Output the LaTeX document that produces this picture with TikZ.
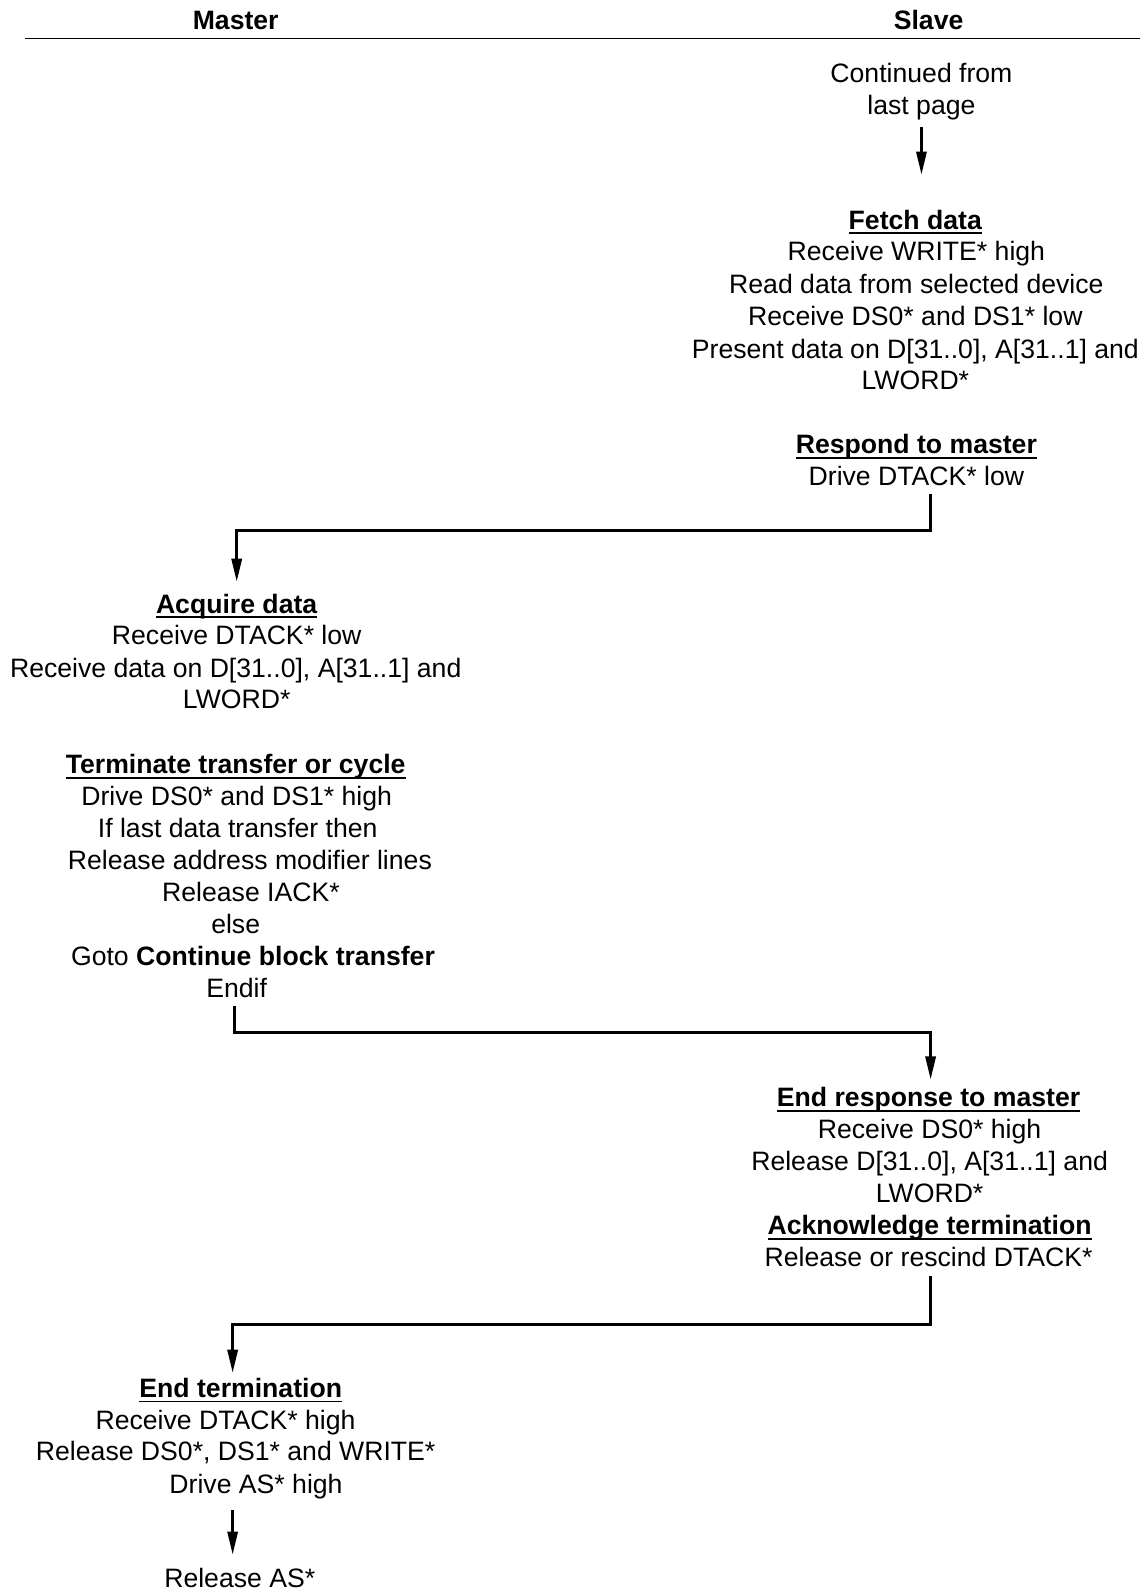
\documentclass[tikz,border=0pt]{standalone}
\usepackage{fontspec}
\setmainfont{Liberation Sans}
\usetikzlibrary{arrows.meta}
\usetikzlibrary{calc}

\newcommand\fsz{\fontsize{19.65pt}{23.7pt}\selectfont}
\newcommand\hd[1]{\setbox0\hbox{\textbf{#1}}\rlap{\rule[-3.6pt]{\wd0}{1.3pt}}\box0}

\tikzset{
  txt/.style={font=\fsz, inner sep=0pt, text height=14.1pt, text depth=4.1pt, yshift=-2.2pt},
  flow/.style={line width=2pt, -{Triangle[length=17pt,width=7.5pt]}},
}

\begin{document}
\begin{tikzpicture}[x=0.75pt, y=-0.75pt]
 \useasboundingbox (0,0) rectangle (1126,1568);

 %header
 \node[txt, font=\fsz\bfseries] (master) at (232,19) {Master};
 \node[txt, font=\fsz\bfseries] (slave) at (914,19) {Slave};
 \draw[line width=1pt] (25,38) -- (1122,38);

 %slave: continued
 \node[txt] (cont1) at (907,72) {Continued from};
 \node[txt] (cont2) at (907,103) {last page};

 %slave: fetch data
 \node[txt] (fetch) at (901,216) {\hd{Fetch data}};
 \foreach \x/\y/\name in {902/247/Receive WRITE* high, 902/279/Read data from selected device,
     901/311/Receive DS0* and DS1* low, 901/343/{Present data on D[31..0], A[31..1] and}, 901/374/LWORD*} {
         \node[txt] (s\y) at (\x,\y) {\name};
 }

 %slave: respond
 \node[txt] (respond) at (902,437) {\hd{Respond to master}};
 \node[txt] (s468) at (902,468) {Drive DTACK* low};

 %master: acquire data
 \node[txt] (acquire) at (233,594) {\hd{Acquire data}};
 \foreach \x/\y/\name in {233/625/Receive DTACK* low, 232/657/{Receive data on D[31..0], A[31..1] and},
     233/688/LWORD*} {
         \node[txt] (m\y) at (\x,\y) {\name};
 }

 %master: terminate
 \node[txt] (term) at (232,752) {\hd{Terminate transfer or cycle}};
 \foreach \x/\y/\name in {233/783/Drive DS0* and DS1* high, 234/815/If last data transfer then,
     246/846/Release address modifier lines, 247/878/Release IACK*, 232/909/else,
     249/941/Goto \textbf{Continue block transfer}, 233/972/Endif} {
         \node[txt] (m\y) at (\x,\y) {\name};
 }

 %slave: end response
 \node[txt] (endresp) at (914,1080) {\hd{End response to master}};
 \foreach \x/\y/\name in {915/1111/Receive DS0* high, 915/1143/{Release D[31..0], A[31..1] and},
     915/1174/LWORD*} {
         \node[txt] (s\y) at (\x,\y) {\name};
 }
 \node[txt] (ack) at (915,1206) {\hd{Acknowledge termination}};
 \node[txt] (s1237) at (914,1237) {Release or rescind DTACK*};

 %master: end termination
 \node[txt] (endterm) at (237,1366) {\hd{End termination}};
 \foreach \x/\y/\name in {222/1397/Receive DTACK* high, 232/1428/{Release DS0*, DS1* and WRITE*},
     252/1460/Drive AS* high} {
         \node[txt] (m\y) at (\x,\y) {\name};
 }
 \node[txt] (release) at (236,1553) {Release AS*};

 %arrows
 \coordinate (k1) at (916,522);
 \coordinate (k2) at (231,1016);
 \coordinate (k3) at (916,1304);
 \coordinate (k4) at (229,1304);
 \draw[flow, shorten <=5pt, shorten >=26pt] (cont2.south) -- (cont2.south |- fetch.north);
 \draw[flow, shorten <=2pt, shorten >=9pt] (s468.south -| k1) -- (k1) -| (acquire.north);
 \draw[flow, shorten <=2pt, shorten >=6pt] (m972.south -| k2) -- (k2) -| (endresp.north -| k1);
 \draw[flow, shorten <=3pt, shorten >=4pt] (s1237.south -| k3) -- (k3) -- (k4) -- (k4 |- endterm.north);
 \draw[flow, shorten <=8pt, shorten >=10pt] (m1460.south -| k4) -- (k4 |- release.north);

\end{tikzpicture}
\end{document}
